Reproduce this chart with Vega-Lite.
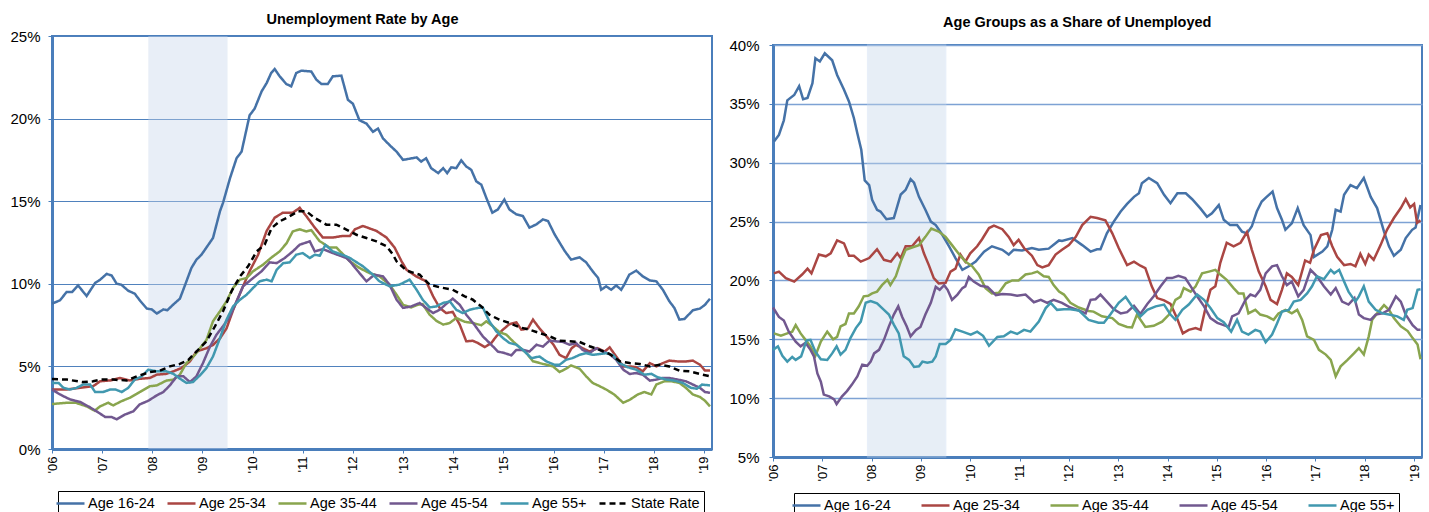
{
  "$schema": "https://vega.github.io/schema/vega-lite/v6.json",
  "padding": {"left": 8, "top": 10, "right": 0, "bottom": 0},
  "background": "white",
  "spacing": 11,
  "config": {
    "font": "Liberation Sans",
    "view": {"stroke": "#4a7ebb", "strokeWidth": 2},
    "axis": {"domainColor": "#4a7ebb", "domainWidth": 3, "tickColor": "#4a7ebb", "tickSize": 4, "gridColor": "#4f81bd", "gridWidth": 1, "labelColor": "#000000", "labelFont": "Liberation Sans", "title": null},
    "legend": {"direction": "horizontal", "title": null, "labelFontSize": 14.5, "labelFont": "Liberation Sans", "labelColor": "#000000", "symbolType": "M-2,0H2", "symbolStrokeWidth": 2.5, "symbolSize": 196, "strokeColor": "#000000", "padding": 4, "labelOffset": 9},
    "title": {"font": "Liberation Sans", "fontSize": 14.5, "fontWeight": "bold", "color": "#000000", "anchor": "middle", "frame": "bounds"}
  },
  "datasets": {
    "rec": [{"s": 2007.92, "e": 2009.5}],
    "L": [
      {"s":"a","t":2006.0,"v":8.8},{"s":"a","t":2006.08,"v":8.9},{"s":"a","t":2006.16,"v":9.0},{"s":"a","t":2006.29,"v":9.5},{"s":"a","t":2006.4,"v":9.5},{"s":"a","t":2006.52,"v":9.9},{"s":"a","t":2006.6,"v":9.6},{"s":"a","t":2006.69,"v":9.26},{"s":"a","t":2006.86,"v":10.05},{"s":"a","t":2006.96,"v":10.25},{"s":"a","t":2007.09,"v":10.6},{"s":"a","t":2007.19,"v":10.5},{"s":"a","t":2007.29,"v":10.0},{"s":"a","t":2007.38,"v":9.95},{"s":"a","t":2007.52,"v":9.58},{"s":"a","t":2007.65,"v":9.4},{"s":"a","t":2007.75,"v":9.0},{"s":"a","t":2007.89,"v":8.5},{"s":"a","t":2007.99,"v":8.45},{"s":"a","t":2008.09,"v":8.2},{"s":"a","t":2008.22,"v":8.45},{"s":"a","t":2008.3,"v":8.4},{"s":"a","t":2008.42,"v":8.75},{"s":"a","t":2008.55,"v":9.1},{"s":"a","t":2008.65,"v":9.9},{"s":"a","t":2008.78,"v":10.96},{"s":"a","t":2008.88,"v":11.46},{"s":"a","t":2008.98,"v":11.76},{"s":"a","t":2009.08,"v":12.2},{"s":"a","t":2009.21,"v":12.77},{"s":"a","t":2009.35,"v":14.4},{"s":"a","t":2009.41,"v":14.9},{"s":"a","t":2009.55,"v":16.4},{"s":"a","t":2009.68,"v":17.6},{"s":"a","t":2009.78,"v":18.0},{"s":"a","t":2009.94,"v":20.2},{"s":"a","t":2010.04,"v":20.6},{"s":"a","t":2010.18,"v":21.65},{"s":"a","t":2010.28,"v":22.15},{"s":"a","t":2010.37,"v":22.76},{"s":"a","t":2010.44,"v":23.0},{"s":"a","t":2010.54,"v":22.56},{"s":"a","t":2010.67,"v":22.1},{"s":"a","t":2010.77,"v":21.95},{"s":"a","t":2010.87,"v":22.76},{"s":"a","t":2010.97,"v":22.9},{"s":"a","t":2011.17,"v":22.85},{"s":"a","t":2011.27,"v":22.36},{"s":"a","t":2011.37,"v":22.1},{"s":"a","t":2011.5,"v":22.1},{"s":"a","t":2011.6,"v":22.56},{"s":"a","t":2011.77,"v":22.6},{"s":"a","t":2011.9,"v":21.14},{"s":"a","t":2012.0,"v":20.9},{"s":"a","t":2012.13,"v":19.9},{"s":"a","t":2012.27,"v":19.7},{"s":"a","t":2012.4,"v":19.2},{"s":"a","t":2012.5,"v":19.4},{"s":"a","t":2012.6,"v":18.8},{"s":"a","t":2012.73,"v":18.4},{"s":"a","t":2012.87,"v":18.0},{"s":"a","t":2013.0,"v":17.5},{"s":"a","t":2013.27,"v":17.65},{"s":"a","t":2013.36,"v":17.4},{"s":"a","t":2013.46,"v":17.6},{"s":"a","t":2013.56,"v":17.0},{"s":"a","t":2013.7,"v":16.7},{"s":"a","t":2013.8,"v":17.0},{"s":"a","t":2013.88,"v":16.7},{"s":"a","t":2013.96,"v":17.05},{"s":"a","t":2014.06,"v":17.0},{"s":"a","t":2014.16,"v":17.47},{"s":"a","t":2014.26,"v":17.1},{"s":"a","t":2014.36,"v":16.9},{"s":"a","t":2014.46,"v":16.2},{"s":"a","t":2014.56,"v":16.0},{"s":"a","t":2014.66,"v":15.2},{"s":"a","t":2014.78,"v":14.3},{"s":"a","t":2014.89,"v":14.5},{"s":"a","t":2015.02,"v":15.1},{"s":"a","t":2015.12,"v":14.5},{"s":"a","t":2015.26,"v":14.2},{"s":"a","t":2015.39,"v":14.1},{"s":"a","t":2015.52,"v":13.4},{"s":"a","t":2015.66,"v":13.6},{"s":"a","t":2015.79,"v":13.9},{"s":"a","t":2015.89,"v":13.8},{"s":"a","t":2016.02,"v":13.0},{"s":"a","t":2016.12,"v":12.5},{"s":"a","t":2016.22,"v":12.0},{"s":"a","t":2016.35,"v":11.46},{"s":"a","t":2016.52,"v":11.6},{"s":"a","t":2016.65,"v":11.3},{"s":"a","t":2016.78,"v":10.76},{"s":"a","t":2016.89,"v":10.35},{"s":"a","t":2016.95,"v":9.64},{"s":"a","t":2017.05,"v":9.85},{"s":"a","t":2017.15,"v":9.64},{"s":"a","t":2017.25,"v":9.9},{"s":"a","t":2017.35,"v":9.64},{"s":"a","t":2017.41,"v":9.95},{"s":"a","t":2017.51,"v":10.55},{"s":"a","t":2017.65,"v":10.8},{"s":"a","t":2017.78,"v":10.45},{"s":"a","t":2017.92,"v":10.2},{"s":"a","t":2018.05,"v":10.15},{"s":"a","t":2018.18,"v":9.64},{"s":"a","t":2018.31,"v":8.94},{"s":"a","t":2018.41,"v":8.54},{"s":"a","t":2018.51,"v":7.83},{"s":"a","t":2018.61,"v":7.87},{"s":"a","t":2018.78,"v":8.4},{"s":"a","t":2018.92,"v":8.5},{"s":"a","t":2019.02,"v":8.73},{"s":"a","t":2019.12,"v":9.1},
      {"s":"b","t":2006.0,"v":3.6},{"s":"b","t":2006.29,"v":3.6},{"s":"b","t":2006.55,"v":3.7},{"s":"b","t":2006.82,"v":3.8},{"s":"b","t":2006.96,"v":4.1},{"s":"b","t":2007.16,"v":4.15},{"s":"b","t":2007.35,"v":4.3},{"s":"b","t":2007.55,"v":4.15},{"s":"b","t":2007.75,"v":4.25},{"s":"b","t":2007.95,"v":4.3},{"s":"b","t":2008.09,"v":4.5},{"s":"b","t":2008.28,"v":4.55},{"s":"b","t":2008.42,"v":4.7},{"s":"b","t":2008.58,"v":4.9},{"s":"b","t":2008.75,"v":5.3},{"s":"b","t":2008.88,"v":5.9},{"s":"b","t":2009.08,"v":6.1},{"s":"b","t":2009.21,"v":6.3},{"s":"b","t":2009.35,"v":6.7},{"s":"b","t":2009.48,"v":7.3},{"s":"b","t":2009.61,"v":8.4},{"s":"b","t":2009.78,"v":9.64},{"s":"b","t":2009.94,"v":10.76},{"s":"b","t":2010.11,"v":11.76},{"s":"b","t":2010.28,"v":13.2},{"s":"b","t":2010.44,"v":14.0},{"s":"b","t":2010.6,"v":14.3},{"s":"b","t":2010.8,"v":14.3},{"s":"b","t":2010.94,"v":14.6},{"s":"b","t":2011.07,"v":14.1},{"s":"b","t":2011.24,"v":13.4},{"s":"b","t":2011.4,"v":12.8},{"s":"b","t":2011.6,"v":12.8},{"s":"b","t":2011.8,"v":12.9},{"s":"b","t":2011.94,"v":12.9},{"s":"b","t":2012.04,"v":13.3},{"s":"b","t":2012.2,"v":13.5},{"s":"b","t":2012.47,"v":13.2},{"s":"b","t":2012.67,"v":12.8},{"s":"b","t":2012.83,"v":12.2},{"s":"b","t":2012.92,"v":11.66},{"s":"b","t":2012.97,"v":11.36},{"s":"b","t":2013.07,"v":10.85},{"s":"b","t":2013.26,"v":10.45},{"s":"b","t":2013.46,"v":10.15},{"s":"b","t":2013.6,"v":9.24},{"s":"b","t":2013.73,"v":8.54},{"s":"b","t":2013.86,"v":8.23},{"s":"b","t":2013.99,"v":8.3},{"s":"b","t":2014.13,"v":7.53},{"s":"b","t":2014.26,"v":6.52},{"s":"b","t":2014.39,"v":6.55},{"s":"b","t":2014.49,"v":6.42},{"s":"b","t":2014.63,"v":6.17},{"s":"b","t":2014.76,"v":6.42},{"s":"b","t":2014.86,"v":6.82},{"s":"b","t":2014.99,"v":7.22},{"s":"b","t":2015.12,"v":7.56},{"s":"b","t":2015.26,"v":7.66},{"s":"b","t":2015.36,"v":7.22},{"s":"b","t":2015.49,"v":7.3},{"s":"b","t":2015.59,"v":7.83},{"s":"b","t":2015.72,"v":7.3},{"s":"b","t":2015.86,"v":6.82},{"s":"b","t":2016.0,"v":6.31},{"s":"b","t":2016.12,"v":5.7},{"s":"b","t":2016.25,"v":5.5},{"s":"b","t":2016.36,"v":6.1},{"s":"b","t":2016.45,"v":6.3},{"s":"b","t":2016.58,"v":6.1},{"s":"b","t":2016.72,"v":5.9},{"s":"b","t":2016.88,"v":6.1},{"s":"b","t":2017.02,"v":5.9},{"s":"b","t":2017.12,"v":6.15},{"s":"b","t":2017.25,"v":5.6},{"s":"b","t":2017.39,"v":5.0},{"s":"b","t":2017.52,"v":5.0},{"s":"b","t":2017.65,"v":4.95},{"s":"b","t":2017.78,"v":4.7},{"s":"b","t":2017.92,"v":5.2},{"s":"b","t":2018.05,"v":5.0},{"s":"b","t":2018.18,"v":5.2},{"s":"b","t":2018.31,"v":5.35},{"s":"b","t":2018.48,"v":5.3},{"s":"b","t":2018.64,"v":5.3},{"s":"b","t":2018.78,"v":5.35},{"s":"b","t":2018.92,"v":5.1},{"s":"b","t":2019.02,"v":4.75},{"s":"b","t":2019.12,"v":4.75},
      {"s":"c","t":2006.0,"v":2.72},{"s":"c","t":2006.29,"v":2.8},{"s":"c","t":2006.47,"v":2.8},{"s":"c","t":2006.69,"v":2.58},{"s":"c","t":2006.85,"v":2.32},{"s":"c","t":2006.96,"v":2.58},{"s":"c","t":2007.12,"v":2.8},{"s":"c","t":2007.22,"v":2.64},{"s":"c","t":2007.39,"v":2.9},{"s":"c","t":2007.55,"v":3.1},{"s":"c","t":2007.75,"v":3.45},{"s":"c","t":2007.95,"v":3.8},{"s":"c","t":2008.09,"v":3.85},{"s":"c","t":2008.28,"v":4.14},{"s":"c","t":2008.42,"v":4.2},{"s":"c","t":2008.55,"v":4.5},{"s":"c","t":2008.68,"v":5.2},{"s":"c","t":2008.85,"v":5.7},{"s":"c","t":2008.95,"v":6.1},{"s":"c","t":2009.08,"v":6.6},{"s":"c","t":2009.21,"v":7.73},{"s":"c","t":2009.35,"v":8.34},{"s":"c","t":2009.48,"v":8.94},{"s":"c","t":2009.61,"v":9.75},{"s":"c","t":2009.75,"v":10.25},{"s":"c","t":2009.88,"v":10.35},{"s":"c","t":2010.01,"v":10.76},{"s":"c","t":2010.21,"v":11.16},{"s":"c","t":2010.38,"v":11.6},{"s":"c","t":2010.54,"v":11.96},{"s":"c","t":2010.68,"v":12.47},{"s":"c","t":2010.8,"v":13.17},{"s":"c","t":2010.94,"v":13.3},{"s":"c","t":2011.07,"v":13.17},{"s":"c","t":2011.17,"v":13.25},{"s":"c","t":2011.33,"v":12.6},{"s":"c","t":2011.53,"v":12.2},{"s":"c","t":2011.67,"v":12.2},{"s":"c","t":2011.94,"v":11.36},{"s":"c","t":2012.13,"v":10.96},{"s":"c","t":2012.33,"v":10.65},{"s":"c","t":2012.53,"v":10.45},{"s":"c","t":2012.73,"v":9.95},{"s":"c","t":2012.87,"v":9.34},{"s":"c","t":2013.0,"v":8.73},{"s":"c","t":2013.16,"v":8.57},{"s":"c","t":2013.29,"v":8.73},{"s":"c","t":2013.39,"v":8.77},{"s":"c","t":2013.53,"v":8.13},{"s":"c","t":2013.66,"v":7.77},{"s":"c","t":2013.8,"v":7.53},{"s":"c","t":2013.93,"v":7.63},{"s":"c","t":2014.06,"v":7.93},{"s":"c","t":2014.23,"v":7.7},{"s":"c","t":2014.39,"v":7.63},{"s":"c","t":2014.56,"v":7.49},{"s":"c","t":2014.66,"v":7.73},{"s":"c","t":2014.79,"v":7.43},{"s":"c","t":2014.92,"v":7.08},{"s":"c","t":2015.06,"v":6.92},{"s":"c","t":2015.19,"v":6.52},{"s":"c","t":2015.32,"v":6.16},{"s":"c","t":2015.46,"v":5.81},{"s":"c","t":2015.59,"v":5.31},{"s":"c","t":2015.79,"v":5.15},{"s":"c","t":2015.99,"v":5.0},{"s":"c","t":2016.12,"v":4.66},{"s":"c","t":2016.25,"v":4.86},{"s":"c","t":2016.35,"v":5.06},{"s":"c","t":2016.52,"v":4.86},{"s":"c","t":2016.65,"v":4.4},{"s":"c","t":2016.78,"v":4.0},{"s":"c","t":2016.92,"v":3.8},{"s":"c","t":2017.05,"v":3.6},{"s":"c","t":2017.21,"v":3.3},{"s":"c","t":2017.39,"v":2.8},{"s":"c","t":2017.52,"v":2.98},{"s":"c","t":2017.68,"v":3.3},{"s":"c","t":2017.81,"v":3.45},{"s":"c","t":2017.95,"v":3.3},{"s":"c","t":2018.05,"v":3.9},{"s":"c","t":2018.21,"v":4.1},{"s":"c","t":2018.35,"v":4.1},{"s":"c","t":2018.51,"v":4.0},{"s":"c","t":2018.64,"v":3.7},{"s":"c","t":2018.78,"v":3.3},{"s":"c","t":2018.92,"v":3.15},{"s":"c","t":2019.02,"v":2.92},{"s":"c","t":2019.12,"v":2.58},
      {"s":"d","t":2006.0,"v":3.6},{"s":"d","t":2006.16,"v":3.3},{"s":"d","t":2006.36,"v":3.0},{"s":"d","t":2006.56,"v":2.85},{"s":"d","t":2006.76,"v":2.52},{"s":"d","t":2006.89,"v":2.28},{"s":"d","t":2007.06,"v":1.94},{"s":"d","t":2007.19,"v":1.93},{"s":"d","t":2007.29,"v":1.8},{"s":"d","t":2007.45,"v":2.08},{"s":"d","t":2007.62,"v":2.28},{"s":"d","t":2007.75,"v":2.7},{"s":"d","t":2007.92,"v":2.92},{"s":"d","t":2008.09,"v":3.25},{"s":"d","t":2008.22,"v":3.45},{"s":"d","t":2008.35,"v":3.85},{"s":"d","t":2008.49,"v":4.4},{"s":"d","t":2008.62,"v":4.4},{"s":"d","t":2008.75,"v":4.05},{"s":"d","t":2008.88,"v":4.4},{"s":"d","t":2009.01,"v":5.2},{"s":"d","t":2009.15,"v":6.2},{"s":"d","t":2009.28,"v":6.92},{"s":"d","t":2009.41,"v":7.43},{"s":"d","t":2009.55,"v":8.03},{"s":"d","t":2009.68,"v":8.94},{"s":"d","t":2009.81,"v":9.85},{"s":"d","t":2010.01,"v":10.35},{"s":"d","t":2010.18,"v":10.76},{"s":"d","t":2010.34,"v":11.3},{"s":"d","t":2010.48,"v":11.25},{"s":"d","t":2010.64,"v":11.56},{"s":"d","t":2010.8,"v":11.96},{"s":"d","t":2010.94,"v":12.37},{"s":"d","t":2011.14,"v":12.57},{"s":"d","t":2011.24,"v":11.96},{"s":"d","t":2011.4,"v":12.1},{"s":"d","t":2011.6,"v":11.86},{"s":"d","t":2011.87,"v":11.56},{"s":"d","t":2011.94,"v":11.36},{"s":"d","t":2012.13,"v":10.65},{"s":"d","t":2012.27,"v":10.15},{"s":"d","t":2012.43,"v":10.55},{"s":"d","t":2012.6,"v":10.45},{"s":"d","t":2012.73,"v":9.95},{"s":"d","t":2012.87,"v":9.04},{"s":"d","t":2013.0,"v":8.54},{"s":"d","t":2013.16,"v":8.63},{"s":"d","t":2013.33,"v":8.84},{"s":"d","t":2013.46,"v":8.54},{"s":"d","t":2013.6,"v":8.23},{"s":"d","t":2013.73,"v":8.43},{"s":"d","t":2013.86,"v":8.78},{"s":"d","t":2013.99,"v":9.1},{"s":"d","t":2014.13,"v":8.73},{"s":"d","t":2014.26,"v":8.13},{"s":"d","t":2014.42,"v":7.53},{"s":"d","t":2014.59,"v":6.82},{"s":"d","t":2014.76,"v":6.31},{"s":"d","t":2014.89,"v":5.9},{"s":"d","t":2015.02,"v":5.81},{"s":"d","t":2015.16,"v":5.67},{"s":"d","t":2015.26,"v":6.0},{"s":"d","t":2015.39,"v":6.0},{"s":"d","t":2015.52,"v":5.9},{"s":"d","t":2015.66,"v":6.31},{"s":"d","t":2015.79,"v":6.2},{"s":"d","t":2015.92,"v":6.56},{"s":"d","t":2016.05,"v":6.52},{"s":"d","t":2016.19,"v":6.48},{"s":"d","t":2016.32,"v":6.31},{"s":"d","t":2016.45,"v":6.42},{"s":"d","t":2016.58,"v":6.0},{"s":"d","t":2016.72,"v":5.81},{"s":"d","t":2016.85,"v":6.1},{"s":"d","t":2016.98,"v":5.9},{"s":"d","t":2017.12,"v":5.75},{"s":"d","t":2017.25,"v":5.4},{"s":"d","t":2017.39,"v":4.8},{"s":"d","t":2017.52,"v":4.54},{"s":"d","t":2017.65,"v":4.6},{"s":"d","t":2017.78,"v":4.5},{"s":"d","t":2017.92,"v":4.14},{"s":"d","t":2018.05,"v":4.2},{"s":"d","t":2018.18,"v":4.3},{"s":"d","t":2018.31,"v":4.3},{"s":"d","t":2018.48,"v":4.2},{"s":"d","t":2018.64,"v":4.1},{"s":"d","t":2018.78,"v":3.9},{"s":"d","t":2018.92,"v":3.7},{"s":"d","t":2019.02,"v":3.45},{"s":"d","t":2019.12,"v":3.4},
      {"s":"e","t":2006.0,"v":4.0},{"s":"e","t":2006.13,"v":4.0},{"s":"e","t":2006.23,"v":3.7},{"s":"e","t":2006.36,"v":3.6},{"s":"e","t":2006.49,"v":3.7},{"s":"e","t":2006.62,"v":3.9},{"s":"e","t":2006.76,"v":3.9},{"s":"e","t":2006.86,"v":3.45},{"s":"e","t":2007.02,"v":3.45},{"s":"e","t":2007.16,"v":3.6},{"s":"e","t":2007.27,"v":3.6},{"s":"e","t":2007.39,"v":3.45},{"s":"e","t":2007.52,"v":3.7},{"s":"e","t":2007.65,"v":4.2},{"s":"e","t":2007.79,"v":4.4},{"s":"e","t":2007.92,"v":4.8},{"s":"e","t":2008.09,"v":4.7},{"s":"e","t":2008.28,"v":4.7},{"s":"e","t":2008.42,"v":4.55},{"s":"e","t":2008.55,"v":4.26},{"s":"e","t":2008.68,"v":4.0},{"s":"e","t":2008.81,"v":4.05},{"s":"e","t":2008.95,"v":4.46},{"s":"e","t":2009.08,"v":4.9},{"s":"e","t":2009.21,"v":5.6},{"s":"e","t":2009.35,"v":6.72},{"s":"e","t":2009.48,"v":7.83},{"s":"e","t":2009.61,"v":8.63},{"s":"e","t":2009.75,"v":9.04},{"s":"e","t":2009.88,"v":9.34},{"s":"e","t":2010.01,"v":9.75},{"s":"e","t":2010.14,"v":10.15},{"s":"e","t":2010.28,"v":10.25},{"s":"e","t":2010.38,"v":10.15},{"s":"e","t":2010.48,"v":10.85},{"s":"e","t":2010.61,"v":11.25},{"s":"e","t":2010.74,"v":11.3},{"s":"e","t":2010.87,"v":11.76},{"s":"e","t":2011.0,"v":11.86},{"s":"e","t":2011.14,"v":11.56},{"s":"e","t":2011.24,"v":11.76},{"s":"e","t":2011.34,"v":11.7},{"s":"e","t":2011.45,"v":12.35},{"s":"e","t":2011.6,"v":11.96},{"s":"e","t":2011.87,"v":11.66},{"s":"e","t":2011.94,"v":11.56},{"s":"e","t":2012.2,"v":11.06},{"s":"e","t":2012.4,"v":10.55},{"s":"e","t":2012.53,"v":10.15},{"s":"e","t":2012.73,"v":9.85},{"s":"e","t":2012.93,"v":9.95},{"s":"e","t":2013.13,"v":10.25},{"s":"e","t":2013.27,"v":9.64},{"s":"e","t":2013.39,"v":9.04},{"s":"e","t":2013.53,"v":8.57},{"s":"e","t":2013.66,"v":8.63},{"s":"e","t":2013.8,"v":8.84},{"s":"e","t":2013.93,"v":8.94},{"s":"e","t":2014.06,"v":8.43},{"s":"e","t":2014.19,"v":8.23},{"s":"e","t":2014.33,"v":8.43},{"s":"e","t":2014.49,"v":8.54},{"s":"e","t":2014.59,"v":8.57},{"s":"e","t":2014.72,"v":7.73},{"s":"e","t":2014.86,"v":7.12},{"s":"e","t":2014.99,"v":6.72},{"s":"e","t":2015.12,"v":6.42},{"s":"e","t":2015.26,"v":6.31},{"s":"e","t":2015.39,"v":6.0},{"s":"e","t":2015.56,"v":5.5},{"s":"e","t":2015.72,"v":5.6},{"s":"e","t":2015.86,"v":5.3},{"s":"e","t":2016.02,"v":5.1},{"s":"e","t":2016.12,"v":5.1},{"s":"e","t":2016.25,"v":5.4},{"s":"e","t":2016.38,"v":5.5},{"s":"e","t":2016.52,"v":5.7},{"s":"e","t":2016.65,"v":5.8},{"s":"e","t":2016.78,"v":5.7},{"s":"e","t":2016.92,"v":5.75},{"s":"e","t":2017.05,"v":5.8},{"s":"e","t":2017.19,"v":5.67},{"s":"e","t":2017.32,"v":5.2},{"s":"e","t":2017.48,"v":4.95},{"s":"e","t":2017.65,"v":4.8},{"s":"e","t":2017.81,"v":4.5},{"s":"e","t":2017.95,"v":4.55},{"s":"e","t":2018.08,"v":4.34},{"s":"e","t":2018.25,"v":4.2},{"s":"e","t":2018.41,"v":4.14},{"s":"e","t":2018.58,"v":4.0},{"s":"e","t":2018.74,"v":3.7},{"s":"e","t":2018.86,"v":3.65},{"s":"e","t":2018.96,"v":3.9},{"s":"e","t":2019.12,"v":3.85},
      {"s":"f","t":2006.0,"v":4.24},{"s":"f","t":2006.3,"v":4.2},{"s":"f","t":2006.62,"v":4.05},{"s":"f","t":2006.82,"v":4.1},{"s":"f","t":2006.96,"v":4.2},{"s":"f","t":2007.22,"v":4.2},{"s":"f","t":2007.49,"v":4.15},{"s":"f","t":2007.69,"v":4.4},{"s":"f","t":2007.95,"v":4.66},{"s":"f","t":2008.15,"v":4.74},{"s":"f","t":2008.35,"v":5.0},{"s":"f","t":2008.55,"v":5.15},{"s":"f","t":2008.72,"v":5.4},{"s":"f","t":2008.88,"v":5.9},{"s":"f","t":2009.08,"v":6.52},{"s":"f","t":2009.25,"v":7.43},{"s":"f","t":2009.41,"v":8.34},{"s":"f","t":2009.58,"v":9.55},{"s":"f","t":2009.75,"v":10.45},{"s":"f","t":2009.91,"v":11.06},{"s":"f","t":2010.08,"v":11.96},{"s":"f","t":2010.24,"v":12.37},{"s":"f","t":2010.38,"v":13.38},{"s":"f","t":2010.54,"v":13.78},{"s":"f","t":2010.74,"v":14.09},{"s":"f","t":2010.91,"v":14.39},{"s":"f","t":2011.07,"v":14.39},{"s":"f","t":2011.24,"v":13.98},{"s":"f","t":2011.47,"v":13.58},{"s":"f","t":2011.67,"v":13.58},{"s":"f","t":2011.87,"v":13.28},{"s":"f","t":2012.07,"v":12.97},{"s":"f","t":2012.27,"v":12.77},{"s":"f","t":2012.47,"v":12.57},{"s":"f","t":2012.67,"v":12.27},{"s":"f","t":2012.8,"v":11.76},{"s":"f","t":2012.87,"v":11.36},{"s":"f","t":2013.07,"v":10.8},{"s":"f","t":2013.33,"v":10.55},{"s":"f","t":2013.53,"v":9.95},{"s":"f","t":2013.73,"v":9.79},{"s":"f","t":2013.99,"v":9.64},{"s":"f","t":2014.23,"v":9.24},{"s":"f","t":2014.39,"v":9.04},{"s":"f","t":2014.56,"v":8.63},{"s":"f","t":2014.72,"v":8.13},{"s":"f","t":2014.92,"v":7.83},{"s":"f","t":2015.12,"v":7.63},{"s":"f","t":2015.32,"v":7.37},{"s":"f","t":2015.52,"v":7.22},{"s":"f","t":2015.72,"v":7.02},{"s":"f","t":2015.92,"v":6.82},{"s":"f","t":2016.12,"v":6.56},{"s":"f","t":2016.32,"v":6.52},{"s":"f","t":2016.52,"v":6.48},{"s":"f","t":2016.72,"v":6.22},{"s":"f","t":2016.92,"v":6.0},{"s":"f","t":2017.12,"v":5.75},{"s":"f","t":2017.32,"v":5.31},{"s":"f","t":2017.52,"v":5.2},{"s":"f","t":2017.72,"v":5.15},{"s":"f","t":2017.92,"v":5.0},{"s":"f","t":2018.12,"v":5.1},{"s":"f","t":2018.31,"v":5.0},{"s":"f","t":2018.51,"v":4.74},{"s":"f","t":2018.71,"v":4.7},{"s":"f","t":2018.92,"v":4.54},{"s":"f","t":2019.12,"v":4.4}
    ],
    "R": [
      {"s":"a","t":2006.02,"v":31.8},{"s":"a","t":2006.12,"v":32.36},{"s":"a","t":2006.22,"v":33.6},{"s":"a","t":2006.29,"v":35.3},{"s":"a","t":2006.43,"v":35.75},{"s":"a","t":2006.53,"v":36.5},{"s":"a","t":2006.61,"v":35.4},{"s":"a","t":2006.7,"v":35.5},{"s":"a","t":2006.8,"v":36.75},{"s":"a","t":2006.86,"v":38.87},{"s":"a","t":2006.95,"v":38.6},{"s":"a","t":2007.05,"v":39.3},{"s":"a","t":2007.2,"v":38.7},{"s":"a","t":2007.3,"v":37.45},{"s":"a","t":2007.44,"v":36.2},{"s":"a","t":2007.54,"v":35.2},{"s":"a","t":2007.64,"v":33.8},{"s":"a","t":2007.71,"v":32.5},{"s":"a","t":2007.79,"v":31.1},{"s":"a","t":2007.86,"v":28.5},{"s":"a","t":2007.95,"v":28.1},{"s":"a","t":2008.01,"v":26.85},{"s":"a","t":2008.11,"v":26.0},{"s":"a","t":2008.18,"v":25.85},{"s":"a","t":2008.3,"v":25.2},{"s":"a","t":2008.45,"v":25.3},{"s":"a","t":2008.59,"v":27.3},{"s":"a","t":2008.69,"v":27.7},{"s":"a","t":2008.79,"v":28.6},{"s":"a","t":2008.86,"v":28.3},{"s":"a","t":2008.96,"v":27.1},{"s":"a","t":2009.09,"v":26.0},{"s":"a","t":2009.2,"v":25.0},{"s":"a","t":2009.3,"v":24.7},{"s":"a","t":2009.43,"v":23.9},{"s":"a","t":2009.57,"v":22.9},{"s":"a","t":2009.7,"v":21.9},{"s":"a","t":2009.84,"v":20.9},{"s":"a","t":2009.97,"v":21.2},{"s":"a","t":2010.11,"v":21.6},{"s":"a","t":2010.28,"v":22.45},{"s":"a","t":2010.44,"v":22.9},{"s":"a","t":2010.65,"v":22.6},{"s":"a","t":2010.78,"v":22.2},{"s":"a","t":2010.88,"v":22.6},{"s":"a","t":2011.05,"v":22.55},{"s":"a","t":2011.25,"v":22.75},{"s":"a","t":2011.39,"v":22.6},{"s":"a","t":2011.59,"v":22.7},{"s":"a","t":2011.8,"v":23.4},{"s":"a","t":2011.86,"v":23.35},{"s":"a","t":2012.07,"v":23.6},{"s":"a","t":2012.27,"v":23.0},{"s":"a","t":2012.44,"v":22.45},{"s":"a","t":2012.57,"v":22.65},{"s":"a","t":2012.64,"v":22.65},{"s":"a","t":2012.77,"v":24.0},{"s":"a","t":2012.91,"v":25.0},{"s":"a","t":2013.05,"v":25.85},{"s":"a","t":2013.18,"v":26.5},{"s":"a","t":2013.32,"v":27.1},{"s":"a","t":2013.42,"v":27.4},{"s":"a","t":2013.48,"v":28.26},{"s":"a","t":2013.62,"v":28.7},{"s":"a","t":2013.79,"v":28.26},{"s":"a","t":2013.93,"v":27.27},{"s":"a","t":2014.06,"v":26.56},{"s":"a","t":2014.2,"v":27.4},{"s":"a","t":2014.37,"v":27.4},{"s":"a","t":2014.5,"v":26.9},{"s":"a","t":2014.67,"v":26.1},{"s":"a","t":2014.8,"v":25.4},{"s":"a","t":2014.9,"v":25.7},{"s":"a","t":2015.04,"v":26.4},{"s":"a","t":2015.14,"v":25.15},{"s":"a","t":2015.27,"v":24.7},{"s":"a","t":2015.41,"v":24.7},{"s":"a","t":2015.51,"v":24.15},{"s":"a","t":2015.61,"v":24.0},{"s":"a","t":2015.71,"v":24.6},{"s":"a","t":2015.81,"v":25.85},{"s":"a","t":2015.91,"v":26.7},{"s":"a","t":2016.01,"v":27.1},{"s":"a","t":2016.13,"v":27.55},{"s":"a","t":2016.22,"v":26.15},{"s":"a","t":2016.32,"v":25.15},{"s":"a","t":2016.39,"v":24.3},{"s":"a","t":2016.52,"v":24.85},{"s":"a","t":2016.64,"v":26.15},{"s":"a","t":2016.76,"v":24.7},{"s":"a","t":2016.9,"v":23.85},{"s":"a","t":2016.97,"v":22.0},{"s":"a","t":2017.14,"v":22.45},{"s":"a","t":2017.24,"v":22.9},{"s":"a","t":2017.34,"v":24.3},{"s":"a","t":2017.41,"v":26.0},{"s":"a","t":2017.51,"v":25.85},{"s":"a","t":2017.58,"v":27.27},{"s":"a","t":2017.71,"v":28.1},{"s":"a","t":2017.84,"v":27.84},{"s":"a","t":2017.98,"v":28.7},{"s":"a","t":2018.12,"v":27.1},{"s":"a","t":2018.25,"v":26.15},{"s":"a","t":2018.39,"v":24.15},{"s":"a","t":2018.49,"v":22.9},{"s":"a","t":2018.59,"v":22.1},{"s":"a","t":2018.73,"v":22.6},{"s":"a","t":2018.83,"v":23.6},{"s":"a","t":2018.96,"v":24.3},{"s":"a","t":2019.03,"v":24.5},{"s":"a","t":2019.13,"v":26.4},
      {"s":"b","t":2006.02,"v":20.6},{"s":"b","t":2006.12,"v":20.75},{"s":"b","t":2006.26,"v":20.2},{"s":"b","t":2006.43,"v":19.9},{"s":"b","t":2006.59,"v":20.5},{"s":"b","t":2006.7,"v":21.0},{"s":"b","t":2006.78,"v":20.6},{"s":"b","t":2006.93,"v":22.2},{"s":"b","t":2007.07,"v":22.05},{"s":"b","t":2007.17,"v":22.3},{"s":"b","t":2007.3,"v":23.4},{"s":"b","t":2007.44,"v":23.15},{"s":"b","t":2007.54,"v":22.1},{"s":"b","t":2007.64,"v":22.1},{"s":"b","t":2007.78,"v":21.6},{"s":"b","t":2007.95,"v":21.9},{"s":"b","t":2008.11,"v":22.65},{"s":"b","t":2008.25,"v":21.75},{"s":"b","t":2008.39,"v":21.6},{"s":"b","t":2008.52,"v":22.3},{"s":"b","t":2008.59,"v":21.9},{"s":"b","t":2008.69,"v":22.9},{"s":"b","t":2008.82,"v":22.9},{"s":"b","t":2008.96,"v":23.6},{"s":"b","t":2009.06,"v":22.3},{"s":"b","t":2009.16,"v":21.3},{"s":"b","t":2009.26,"v":20.2},{"s":"b","t":2009.36,"v":19.75},{"s":"b","t":2009.5,"v":19.8},{"s":"b","t":2009.6,"v":20.75},{"s":"b","t":2009.7,"v":21.0},{"s":"b","t":2009.8,"v":22.2},{"s":"b","t":2009.9,"v":21.6},{"s":"b","t":2010.0,"v":22.3},{"s":"b","t":2010.14,"v":22.9},{"s":"b","t":2010.24,"v":23.5},{"s":"b","t":2010.38,"v":24.45},{"s":"b","t":2010.48,"v":24.65},{"s":"b","t":2010.65,"v":24.35},{"s":"b","t":2010.78,"v":23.7},{"s":"b","t":2010.88,"v":23.0},{"s":"b","t":2010.98,"v":23.45},{"s":"b","t":2011.09,"v":22.75},{"s":"b","t":2011.25,"v":22.1},{"s":"b","t":2011.36,"v":21.3},{"s":"b","t":2011.46,"v":21.1},{"s":"b","t":2011.59,"v":21.3},{"s":"b","t":2011.73,"v":22.2},{"s":"b","t":2011.86,"v":22.6},{"s":"b","t":2012.0,"v":23.0},{"s":"b","t":2012.14,"v":23.7},{"s":"b","t":2012.27,"v":24.7},{"s":"b","t":2012.44,"v":25.4},{"s":"b","t":2012.57,"v":25.3},{"s":"b","t":2012.74,"v":25.1},{"s":"b","t":2012.88,"v":24.0},{"s":"b","t":2013.01,"v":22.75},{"s":"b","t":2013.18,"v":21.3},{"s":"b","t":2013.32,"v":21.6},{"s":"b","t":2013.45,"v":21.25},{"s":"b","t":2013.55,"v":21.05},{"s":"b","t":2013.68,"v":19.5},{"s":"b","t":2013.79,"v":18.5},{"s":"b","t":2013.93,"v":18.3},{"s":"b","t":2014.06,"v":18.0},{"s":"b","t":2014.19,"v":16.8},{"s":"b","t":2014.31,"v":15.5},{"s":"b","t":2014.43,"v":15.8},{"s":"b","t":2014.57,"v":15.95},{"s":"b","t":2014.67,"v":15.8},{"s":"b","t":2014.77,"v":17.65},{"s":"b","t":2014.87,"v":19.2},{"s":"b","t":2014.97,"v":19.5},{"s":"b","t":2015.07,"v":21.5},{"s":"b","t":2015.2,"v":23.2},{"s":"b","t":2015.34,"v":22.9},{"s":"b","t":2015.48,"v":23.2},{"s":"b","t":2015.61,"v":24.1},{"s":"b","t":2015.71,"v":22.6},{"s":"b","t":2015.85,"v":20.75},{"s":"b","t":2015.99,"v":19.5},{"s":"b","t":2016.09,"v":18.35},{"s":"b","t":2016.22,"v":18.0},{"s":"b","t":2016.32,"v":19.2},{"s":"b","t":2016.42,"v":20.6},{"s":"b","t":2016.52,"v":20.3},{"s":"b","t":2016.65,"v":19.6},{"s":"b","t":2016.79,"v":21.7},{"s":"b","t":2016.89,"v":21.5},{"s":"b","t":2016.97,"v":22.6},{"s":"b","t":2017.11,"v":23.85},{"s":"b","t":2017.24,"v":24.0},{"s":"b","t":2017.34,"v":22.9},{"s":"b","t":2017.44,"v":22.0},{"s":"b","t":2017.58,"v":21.3},{"s":"b","t":2017.71,"v":21.4},{"s":"b","t":2017.81,"v":21.2},{"s":"b","t":2017.91,"v":22.25},{"s":"b","t":2018.01,"v":21.4},{"s":"b","t":2018.08,"v":22.2},{"s":"b","t":2018.18,"v":21.75},{"s":"b","t":2018.32,"v":23.0},{"s":"b","t":2018.45,"v":24.3},{"s":"b","t":2018.59,"v":25.3},{"s":"b","t":2018.73,"v":26.15},{"s":"b","t":2018.83,"v":26.9},{"s":"b","t":2018.92,"v":26.2},{"s":"b","t":2019.0,"v":26.5},{"s":"b","t":2019.06,"v":24.9},{"s":"b","t":2019.13,"v":25.1},
      {"s":"c","t":2006.02,"v":15.5},{"s":"c","t":2006.16,"v":15.3},{"s":"c","t":2006.29,"v":15.5},{"s":"c","t":2006.39,"v":15.65},{"s":"c","t":2006.46,"v":16.2},{"s":"c","t":2006.56,"v":15.5},{"s":"c","t":2006.66,"v":14.95},{"s":"c","t":2006.76,"v":14.4},{"s":"c","t":2006.86,"v":13.6},{"s":"c","t":2006.97,"v":14.8},{"s":"c","t":2007.1,"v":15.65},{"s":"c","t":2007.22,"v":15.0},{"s":"c","t":2007.3,"v":15.2},{"s":"c","t":2007.37,"v":16.1},{"s":"c","t":2007.47,"v":16.3},{"s":"c","t":2007.54,"v":17.2},{"s":"c","t":2007.64,"v":17.2},{"s":"c","t":2007.74,"v":17.8},{"s":"c","t":2007.84,"v":18.65},{"s":"c","t":2007.93,"v":18.7},{"s":"c","t":2008.01,"v":18.9},{"s":"c","t":2008.11,"v":19.05},{"s":"c","t":2008.21,"v":19.6},{"s":"c","t":2008.32,"v":20.05},{"s":"c","t":2008.38,"v":19.6},{"s":"c","t":2008.49,"v":20.35},{"s":"c","t":2008.59,"v":21.6},{"s":"c","t":2008.69,"v":22.6},{"s":"c","t":2008.82,"v":22.8},{"s":"c","t":2008.96,"v":23.0},{"s":"c","t":2009.09,"v":23.7},{"s":"c","t":2009.21,"v":24.4},{"s":"c","t":2009.36,"v":24.15},{"s":"c","t":2009.5,"v":23.7},{"s":"c","t":2009.63,"v":23.0},{"s":"c","t":2009.77,"v":22.25},{"s":"c","t":2009.9,"v":21.6},{"s":"c","t":2010.04,"v":21.2},{"s":"c","t":2010.17,"v":20.5},{"s":"c","t":2010.31,"v":19.35},{"s":"c","t":2010.44,"v":18.9},{"s":"c","t":2010.58,"v":18.95},{"s":"c","t":2010.72,"v":19.75},{"s":"c","t":2010.85,"v":20.0},{"s":"c","t":2010.98,"v":20.0},{"s":"c","t":2011.12,"v":20.5},{"s":"c","t":2011.25,"v":20.6},{"s":"c","t":2011.36,"v":20.75},{"s":"c","t":2011.49,"v":20.35},{"s":"c","t":2011.59,"v":20.3},{"s":"c","t":2011.69,"v":19.6},{"s":"c","t":2011.8,"v":19.05},{"s":"c","t":2011.9,"v":18.8},{"s":"c","t":2012.03,"v":18.1},{"s":"c","t":2012.2,"v":17.7},{"s":"c","t":2012.4,"v":17.4},{"s":"c","t":2012.5,"v":17.35},{"s":"c","t":2012.67,"v":16.95},{"s":"c","t":2012.88,"v":16.8},{"s":"c","t":2013.01,"v":16.3},{"s":"c","t":2013.18,"v":16.05},{"s":"c","t":2013.28,"v":16.0},{"s":"c","t":2013.38,"v":17.1},{"s":"c","t":2013.55,"v":16.05},{"s":"c","t":2013.72,"v":16.15},{"s":"c","t":2013.89,"v":16.5},{"s":"c","t":2014.03,"v":17.1},{"s":"c","t":2014.16,"v":18.35},{"s":"c","t":2014.26,"v":18.6},{"s":"c","t":2014.33,"v":19.35},{"s":"c","t":2014.47,"v":19.05},{"s":"c","t":2014.57,"v":19.5},{"s":"c","t":2014.7,"v":20.6},{"s":"c","t":2014.84,"v":20.75},{"s":"c","t":2014.97,"v":20.9},{"s":"c","t":2015.07,"v":20.5},{"s":"c","t":2015.2,"v":20.05},{"s":"c","t":2015.34,"v":19.35},{"s":"c","t":2015.44,"v":18.9},{"s":"c","t":2015.54,"v":18.9},{"s":"c","t":2015.64,"v":17.2},{"s":"c","t":2015.78,"v":17.5},{"s":"c","t":2015.88,"v":17.1},{"s":"c","t":2016.02,"v":16.95},{"s":"c","t":2016.15,"v":16.65},{"s":"c","t":2016.25,"v":17.2},{"s":"c","t":2016.39,"v":17.5},{"s":"c","t":2016.52,"v":17.2},{"s":"c","t":2016.63,"v":17.5},{"s":"c","t":2016.73,"v":16.65},{"s":"c","t":2016.83,"v":15.25},{"s":"c","t":2016.97,"v":14.95},{"s":"c","t":2017.07,"v":14.1},{"s":"c","t":2017.21,"v":13.7},{"s":"c","t":2017.31,"v":13.25},{"s":"c","t":2017.41,"v":11.85},{"s":"c","t":2017.51,"v":12.7},{"s":"c","t":2017.65,"v":13.25},{"s":"c","t":2017.78,"v":13.8},{"s":"c","t":2017.88,"v":14.25},{"s":"c","t":2017.98,"v":13.7},{"s":"c","t":2018.08,"v":15.25},{"s":"c","t":2018.15,"v":16.65},{"s":"c","t":2018.25,"v":17.2},{"s":"c","t":2018.39,"v":17.9},{"s":"c","t":2018.49,"v":17.5},{"s":"c","t":2018.59,"v":16.8},{"s":"c","t":2018.73,"v":16.1},{"s":"c","t":2018.87,"v":15.7},{"s":"c","t":2018.97,"v":15.1},{"s":"c","t":2019.07,"v":14.55},{"s":"c","t":2019.13,"v":13.3},
      {"s":"d","t":2006.0,"v":17.7},{"s":"d","t":2006.12,"v":16.9},{"s":"d","t":2006.22,"v":16.6},{"s":"d","t":2006.32,"v":15.65},{"s":"d","t":2006.46,"v":14.8},{"s":"d","t":2006.56,"v":14.4},{"s":"d","t":2006.66,"v":14.7},{"s":"d","t":2006.76,"v":14.1},{"s":"d","t":2006.83,"v":13.55},{"s":"d","t":2006.9,"v":12.1},{"s":"d","t":2006.97,"v":11.4},{"s":"d","t":2007.03,"v":10.3},{"s":"d","t":2007.14,"v":10.15},{"s":"d","t":2007.24,"v":9.9},{"s":"d","t":2007.29,"v":9.5},{"s":"d","t":2007.4,"v":10.15},{"s":"d","t":2007.5,"v":10.6},{"s":"d","t":2007.6,"v":11.15},{"s":"d","t":2007.71,"v":11.85},{"s":"d","t":2007.81,"v":12.85},{"s":"d","t":2007.91,"v":12.75},{"s":"d","t":2007.98,"v":13.1},{"s":"d","t":2008.05,"v":13.8},{"s":"d","t":2008.15,"v":14.1},{"s":"d","t":2008.25,"v":14.95},{"s":"d","t":2008.35,"v":16.1},{"s":"d","t":2008.45,"v":17.1},{"s":"d","t":2008.54,"v":17.8},{"s":"d","t":2008.62,"v":16.9},{"s":"d","t":2008.71,"v":16.1},{"s":"d","t":2008.79,"v":15.25},{"s":"d","t":2008.9,"v":15.8},{"s":"d","t":2008.99,"v":16.05},{"s":"d","t":2009.09,"v":17.1},{"s":"d","t":2009.2,"v":18.1},{"s":"d","t":2009.3,"v":19.45},{"s":"d","t":2009.38,"v":19.2},{"s":"d","t":2009.47,"v":19.6},{"s":"d","t":2009.54,"v":19.2},{"s":"d","t":2009.63,"v":18.35},{"s":"d","t":2009.74,"v":18.8},{"s":"d","t":2009.84,"v":19.35},{"s":"d","t":2009.9,"v":19.5},{"s":"d","t":2009.97,"v":20.3},{"s":"d","t":2010.07,"v":19.9},{"s":"d","t":2010.21,"v":19.55},{"s":"d","t":2010.35,"v":19.45},{"s":"d","t":2010.52,"v":18.75},{"s":"d","t":2010.65,"v":18.85},{"s":"d","t":2010.82,"v":18.8},{"s":"d","t":2010.95,"v":18.7},{"s":"d","t":2011.12,"v":18.8},{"s":"d","t":2011.29,"v":18.15},{"s":"d","t":2011.43,"v":18.35},{"s":"d","t":2011.56,"v":18.1},{"s":"d","t":2011.69,"v":18.35},{"s":"d","t":2011.86,"v":18.1},{"s":"d","t":2012.03,"v":17.7},{"s":"d","t":2012.2,"v":17.45},{"s":"d","t":2012.34,"v":17.2},{"s":"d","t":2012.44,"v":18.35},{"s":"d","t":2012.54,"v":18.4},{"s":"d","t":2012.64,"v":18.8},{"s":"d","t":2012.77,"v":18.2},{"s":"d","t":2012.91,"v":17.55},{"s":"d","t":2013.05,"v":17.2},{"s":"d","t":2013.18,"v":17.3},{"s":"d","t":2013.32,"v":17.85},{"s":"d","t":2013.45,"v":17.15},{"s":"d","t":2013.59,"v":18.0},{"s":"d","t":2013.72,"v":18.65},{"s":"d","t":2013.86,"v":19.5},{"s":"d","t":2013.99,"v":20.2},{"s":"d","t":2014.09,"v":20.2},{"s":"d","t":2014.22,"v":20.4},{"s":"d","t":2014.36,"v":20.2},{"s":"d","t":2014.47,"v":19.5},{"s":"d","t":2014.6,"v":18.65},{"s":"d","t":2014.74,"v":17.8},{"s":"d","t":2014.87,"v":16.8},{"s":"d","t":2015.01,"v":16.4},{"s":"d","t":2015.11,"v":16.25},{"s":"d","t":2015.24,"v":16.05},{"s":"d","t":2015.31,"v":16.95},{"s":"d","t":2015.44,"v":17.2},{"s":"d","t":2015.58,"v":18.35},{"s":"d","t":2015.68,"v":18.8},{"s":"d","t":2015.78,"v":18.65},{"s":"d","t":2015.88,"v":19.2},{"s":"d","t":2015.99,"v":20.6},{"s":"d","t":2016.12,"v":21.2},{"s":"d","t":2016.22,"v":21.3},{"s":"d","t":2016.32,"v":20.35},{"s":"d","t":2016.42,"v":19.6},{"s":"d","t":2016.52,"v":19.9},{"s":"d","t":2016.65,"v":18.65},{"s":"d","t":2016.76,"v":19.2},{"s":"d","t":2016.9,"v":20.9},{"s":"d","t":2017.03,"v":20.35},{"s":"d","t":2017.17,"v":19.5},{"s":"d","t":2017.31,"v":18.8},{"s":"d","t":2017.41,"v":19.35},{"s":"d","t":2017.54,"v":18.2},{"s":"d","t":2017.67,"v":17.95},{"s":"d","t":2017.79,"v":18.5},{"s":"d","t":2017.88,"v":17.1},{"s":"d","t":2017.98,"v":16.8},{"s":"d","t":2018.12,"v":16.65},{"s":"d","t":2018.22,"v":17.1},{"s":"d","t":2018.36,"v":17.2},{"s":"d","t":2018.49,"v":17.5},{"s":"d","t":2018.63,"v":18.65},{"s":"d","t":2018.73,"v":18.2},{"s":"d","t":2018.83,"v":17.1},{"s":"d","t":2018.97,"v":16.2},{"s":"d","t":2019.07,"v":15.8},{"s":"d","t":2019.13,"v":15.8},
      {"s":"e","t":2006.0,"v":14.1},{"s":"e","t":2006.1,"v":14.4},{"s":"e","t":2006.19,"v":13.6},{"s":"e","t":2006.29,"v":13.1},{"s":"e","t":2006.39,"v":13.5},{"s":"e","t":2006.46,"v":13.25},{"s":"e","t":2006.57,"v":13.55},{"s":"e","t":2006.68,"v":14.9},{"s":"e","t":2006.76,"v":14.95},{"s":"e","t":2006.86,"v":13.95},{"s":"e","t":2006.97,"v":13.3},{"s":"e","t":2007.1,"v":13.25},{"s":"e","t":2007.2,"v":13.8},{"s":"e","t":2007.29,"v":14.4},{"s":"e","t":2007.37,"v":13.7},{"s":"e","t":2007.47,"v":14.1},{"s":"e","t":2007.57,"v":15.1},{"s":"e","t":2007.68,"v":15.95},{"s":"e","t":2007.78,"v":16.5},{"s":"e","t":2007.88,"v":18.1},{"s":"e","t":2007.98,"v":18.25},{"s":"e","t":2008.11,"v":18.05},{"s":"e","t":2008.25,"v":17.5},{"s":"e","t":2008.35,"v":17.1},{"s":"e","t":2008.45,"v":16.25},{"s":"e","t":2008.55,"v":15.5},{"s":"e","t":2008.65,"v":13.55},{"s":"e","t":2008.76,"v":13.25},{"s":"e","t":2008.86,"v":12.65},{"s":"e","t":2008.96,"v":12.7},{"s":"e","t":2009.03,"v":13.1},{"s":"e","t":2009.13,"v":13.0},{"s":"e","t":2009.23,"v":13.1},{"s":"e","t":2009.3,"v":13.55},{"s":"e","t":2009.38,"v":14.6},{"s":"e","t":2009.5,"v":14.6},{"s":"e","t":2009.6,"v":14.95},{"s":"e","t":2009.7,"v":15.85},{"s":"e","t":2009.84,"v":15.65},{"s":"e","t":2010.01,"v":15.4},{"s":"e","t":2010.14,"v":15.65},{"s":"e","t":2010.26,"v":15.3},{"s":"e","t":2010.38,"v":14.45},{"s":"e","t":2010.55,"v":15.2},{"s":"e","t":2010.68,"v":15.25},{"s":"e","t":2010.82,"v":15.65},{"s":"e","t":2010.95,"v":15.45},{"s":"e","t":2011.09,"v":15.8},{"s":"e","t":2011.22,"v":15.65},{"s":"e","t":2011.39,"v":16.5},{"s":"e","t":2011.53,"v":17.65},{"s":"e","t":2011.63,"v":18.1},{"s":"e","t":2011.76,"v":17.5},{"s":"e","t":2011.9,"v":17.55},{"s":"e","t":2012.03,"v":17.55},{"s":"e","t":2012.2,"v":17.45},{"s":"e","t":2012.4,"v":16.65},{"s":"e","t":2012.6,"v":16.4},{"s":"e","t":2012.71,"v":16.4},{"s":"e","t":2012.84,"v":17.1},{"s":"e","t":2013.01,"v":18.1},{"s":"e","t":2013.15,"v":18.6},{"s":"e","t":2013.28,"v":17.8},{"s":"e","t":2013.45,"v":16.95},{"s":"e","t":2013.59,"v":17.5},{"s":"e","t":2013.76,"v":17.8},{"s":"e","t":2013.93,"v":17.95},{"s":"e","t":2014.06,"v":17.1},{"s":"e","t":2014.16,"v":16.65},{"s":"e","t":2014.3,"v":17.5},{"s":"e","t":2014.43,"v":17.95},{"s":"e","t":2014.6,"v":18.8},{"s":"e","t":2014.74,"v":18.35},{"s":"e","t":2014.87,"v":17.65},{"s":"e","t":2015.01,"v":16.8},{"s":"e","t":2015.14,"v":16.45},{"s":"e","t":2015.29,"v":15.65},{"s":"e","t":2015.41,"v":16.65},{"s":"e","t":2015.51,"v":15.65},{"s":"e","t":2015.64,"v":15.4},{"s":"e","t":2015.78,"v":15.8},{"s":"e","t":2015.88,"v":15.65},{"s":"e","t":2015.99,"v":14.75},{"s":"e","t":2016.12,"v":15.4},{"s":"e","t":2016.22,"v":16.35},{"s":"e","t":2016.32,"v":17.35},{"s":"e","t":2016.46,"v":17.5},{"s":"e","t":2016.56,"v":18.2},{"s":"e","t":2016.7,"v":18.35},{"s":"e","t":2016.83,"v":18.9},{"s":"e","t":2016.93,"v":19.5},{"s":"e","t":2017.03,"v":20.35},{"s":"e","t":2017.17,"v":20.1},{"s":"e","t":2017.31,"v":20.9},{"s":"e","t":2017.38,"v":20.6},{"s":"e","t":2017.48,"v":20.9},{"s":"e","t":2017.58,"v":19.9},{"s":"e","t":2017.67,"v":19.05},{"s":"e","t":2017.81,"v":18.2},{"s":"e","t":2017.88,"v":18.65},{"s":"e","t":2017.98,"v":19.5},{"s":"e","t":2018.08,"v":18.2},{"s":"e","t":2018.22,"v":17.5},{"s":"e","t":2018.36,"v":17.2},{"s":"e","t":2018.49,"v":17.1},{"s":"e","t":2018.66,"v":16.95},{"s":"e","t":2018.79,"v":16.65},{"s":"e","t":2018.86,"v":17.5},{"s":"e","t":2018.97,"v":17.65},{"s":"e","t":2019.07,"v":19.2},{"s":"e","t":2019.13,"v":19.25}
    ]
  },
  "hconcat": [
    {
      "width": 660,
      "height": 413,
      "title": {"text": "Unemployment Rate by Age", "offset": 2},
      "layer": [
        {
          "data": {"name": "rec"},
          "mark": {"type": "rect", "color": "#c5d5ea", "opacity": 0.4},
          "encoding": {
            "x": {"field": "s", "type": "quantitative"},
            "x2": {"field": "e"},
            "y": {"datum": 25, "type": "quantitative"},
            "y2": {"datum": 0}
          }
        },
        {
          "data": {"name": "L"},
          "mark": {"type": "line", "strokeWidth": 2.5},
          "encoding": {
            "x": {"field": "t", "type": "quantitative",
              "scale": {"domain": [2006, 2019.16], "nice": false, "zero": false},
              "axis": {"values": [2006,2007,2008,2009,2010,2011,2012,2013,2014,2015,2016,2017,2018,2019], "labelAngle": -90, "labelFontSize": 13, "labelPadding": 3, "grid": false, "labelExpr": "\"'\" + slice(toString(datum.value), 2)"}},
            "y": {"field": "v", "type": "quantitative",
              "scale": {"domain": [0, 25], "nice": false},
              "axis": {"values": [0,5,10,15,20,25], "labelFontSize": 15, "labelPadding": 8, "grid": true, "labelExpr": "datum.value + '%'"}},
            "color": {"field": "s", "type": "nominal",
              "scale": {"domain": ["a","b","c","d","e","f"], "range": ["#4572A7","#AA4643","#89A54E","#71588F","#4198AF","#000000"]},
              "legend": {"orient": "none", "legendX": 6, "legendY": 455, "columnPadding": 7, "labelExpr": "datum.label == 'a' ? 'Age 16-24' : datum.label == 'b' ? 'Age 25-34' : datum.label == 'c' ? 'Age 35-44' : datum.label == 'd' ? 'Age 45-54' : datum.label == 'e' ? 'Age 55+' : 'State Rate'"}},
            "strokeDash": {"field": "s", "type": "nominal",
              "scale": {"domain": ["a","b","c","d","e","f"], "range": [[1,0],[1,0],[1,0],[1,0],[1,0],[6,4]]},
              "legend": {"orient": "none", "legendX": 6, "legendY": 455, "columnPadding": 7, "labelExpr": "datum.label == 'a' ? 'Age 16-24' : datum.label == 'b' ? 'Age 25-34' : datum.label == 'c' ? 'Age 35-44' : datum.label == 'd' ? 'Age 45-54' : datum.label == 'e' ? 'Age 55+' : 'State Rate'"}}
          }
        }
      ]
    },
    {
      "title": {"text": "Age Groups as a Share of Unemployed", "offset": 6},
      "spacing": 0,
      "resolve": {"scale": {"color": "independent"}},
      "vconcat": [
        {
          "width": 649,
          "height": 1,
          "view": {"stroke": null},
          "data": {"values": [{"k": 1}]},
          "mark": {"type": "rect", "opacity": 0},
          "encoding": {}
        },
        {
          "width": 649,
          "height": 412,
          "layer": [
            {
              "data": {"name": "rec"},
              "mark": {"type": "rect", "color": "#c5d5ea", "opacity": 0.4, "stroke": "#c6d9f1", "strokeWidth": 1.5, "strokeOpacity": 1},
              "encoding": {
                "x": {"field": "s", "type": "quantitative"},
                "x2": {"field": "e"},
                "y": {"datum": 40, "type": "quantitative"},
                "y2": {"datum": 5}
              }
            },
            {
              "data": {"name": "R"},
              "mark": {"type": "line", "strokeWidth": 2.5},
              "encoding": {
                "x": {"field": "t", "type": "quantitative",
                  "scale": {"domain": [2006, 2019.16], "nice": false, "zero": false},
                  "axis": {"values": [2006,2007,2008,2009,2010,2011,2012,2013,2014,2015,2016,2017,2018,2019], "labelAngle": -90, "labelFontSize": 13, "labelPadding": 3, "grid": false, "labelExpr": "\"'\" + slice(toString(datum.value), 2)"}},
                "y": {"field": "v", "type": "quantitative",
                  "scale": {"domain": [5, 40], "nice": false, "zero": false},
                  "axis": {"values": [5,10,15,20,25,30,35,40], "labelFontSize": 15, "labelPadding": 10, "grid": true, "gridColor": "#7da2d4", "gridWidth": 1.5, "labelExpr": "datum.value + '%'"}},
                "color": {"field": "s", "type": "nominal",
                  "scale": {"domain": ["a","b","c","d","e"], "range": ["#4572A7","#AA4643","#89A54E","#71588F","#4198AF"]},
                  "legend": {"orient": "none", "legendX": 21, "legendY": 448, "columnPadding": 25, "gridAlign": "all", "labelExpr": "datum.label == 'a' ? 'Age 16-24' : datum.label == 'b' ? 'Age 25-34' : datum.label == 'c' ? 'Age 35-44' : datum.label == 'd' ? 'Age 45-54' : 'Age 55+'"}}
              }
            }
          ]
        }
      ]
    }
  ],
  "resolve": {"scale": {"color": "independent", "strokeDash": "independent", "x": "independent", "y": "independent"}}
}
